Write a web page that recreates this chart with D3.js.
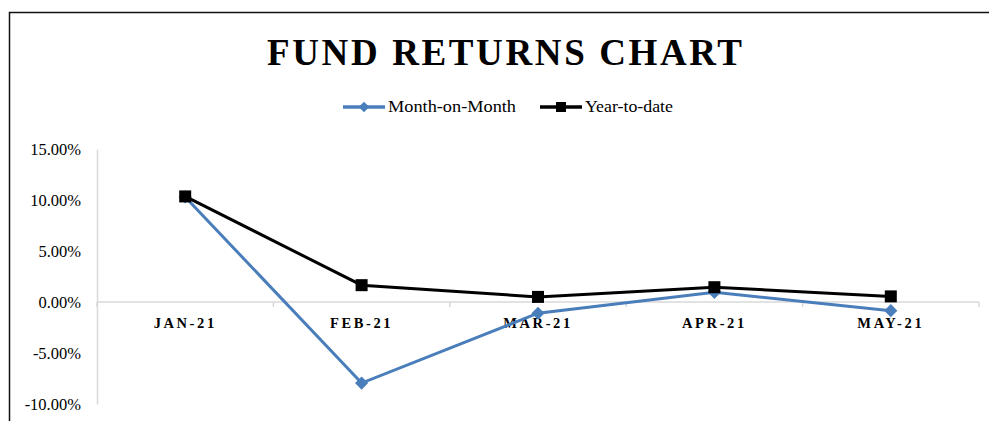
<!DOCTYPE html>
<head>
  <title>Fund returns chart</title>
  <script src="https://d3js.org/d3.v7.min.js"></script>
</head>
<style>
body {
    margin: 0;
    background: #fff;
}
svg text {
    fill: #000;
    font-family: "Liberation Serif", "Times New Roman", serif;
}
</style>
<body>
<svg></svg>
<script>
    // chart data
    var months = ["JAN-21", "FEB-21", "MAR-21", "APR-21", "MAY-21"];
    var monthOnMonth = [10.3, -7.95, -1.1, 0.95, -0.85];
    var yearToDate = [10.35, 1.65, 0.5, 1.45, 0.55];
    var yTicks = [-10, -5, 0, 5, 10, 15];
    var seriesNames = ["Month-on-Month", "Year-to-date"];

    var width = 989, height = 421;
    var blue = "#4a7ebb";

    var svg = d3.select("svg").attr("width", width).attr("height", height);

    // outer frame (runs off the right and bottom edge like the screenshot)
    svg.append("rect")
        .attr("x", 9.5).attr("y", 12.5)
        .attr("width", 990).attr("height", 420)
        .attr("fill", "none").attr("stroke", "#111").attr("stroke-width", 1.5);

    // title
    svg.append("text")
        .attr("x", 267).attr("y", 65)
        .attr("textLength", 475).attr("lengthAdjust", "spacing")
        .style("font-size", "37px").style("font-weight", "bold")
        .text("FUND RETURNS CHART");

    var x = d3.scaleBand().domain(months).range([97, 979]);
    var y = d3.scaleLinear().domain([-10, 15]).range([404, 149]);

    // y axis: grey line, labels only
    var yAxis = svg.append("g").attr("transform", "translate(97,0)")
        .call(d3.axisLeft(y).tickValues(yTicks).tickSize(0).tickPadding(16)
            .tickFormat(function (d) { return d.toFixed(2) + "%"; }));
    yAxis.attr("font-family", null);
    yAxis.select(".domain").attr("stroke", "#d9d9d9").attr("stroke-width", 1.5);
    yAxis.selectAll("text")
        .style("font-size", "16.5px").attr("fill", "#000");

    // x axis at zero, ticks on category boundaries
    var xg = svg.append("g").attr("transform", "translate(0," + y(0) + ")");
    xg.append("line")
        .attr("x1", 97).attr("x2", 979)
        .attr("stroke", "#d9d9d9").attr("stroke-width", 1.5);
    var bounds = months.map(function (m) { return x(m); }).concat([x.range()[1]]);
    xg.selectAll("line.tick").data(bounds).enter().append("line")
        .attr("class", "tick")
        .attr("x1", function (d) { return d; }).attr("x2", function (d) { return d; })
        .attr("y1", 0).attr("y2", 5)
        .attr("stroke", "#d9d9d9").attr("stroke-width", 1.5);
    xg.selectAll("text").data(months).enter().append("text")
        .attr("x", function (d) { return x(d) + x.bandwidth() / 2; })
        .attr("y", 26)
        .attr("text-anchor", "middle")
        .style("font-size", "14.5px").style("font-weight", "bold")
        .style("letter-spacing", "2.6px")
        .text(function (d) { return d; });

    var cx = function (d, i) { return x(months[i]) + x.bandwidth() / 2; };
    var line = d3.line().x(cx).y(function (d) { return y(d); });

    // Month-on-Month
    svg.append("path").datum(monthOnMonth)
        .attr("d", line).attr("fill", "none")
        .attr("stroke", blue).attr("stroke-width", 3);
    var diamond = d3.symbol().type(d3.symbolDiamond2).size(110);
    svg.selectAll("path.mom").data(monthOnMonth).enter().append("path")
        .attr("class", "mom")
        .attr("d", diamond)
        .attr("transform", function (d, i) { return "translate(" + cx(d, i) + "," + y(d) + ")"; })
        .attr("fill", blue);

    // Year-to-date
    svg.append("path").datum(yearToDate)
        .attr("d", line).attr("fill", "none")
        .attr("stroke", "#000").attr("stroke-width", 3);
    svg.selectAll("rect.ytd").data(yearToDate).enter().append("rect")
        .attr("class", "ytd")
        .attr("x", function (d, i) { return cx(d, i) - 6; })
        .attr("y", function (d) { return y(d) - 6; })
        .attr("width", 12).attr("height", 12)
        .attr("fill", "#000");

    // legend
    var legend = [
        { name: seriesNames[0], x: 343, tw: 128, color: blue, shape: "diamond" },
        { name: seriesNames[1], x: 540, tw: 88, color: "#000", shape: "square" }
    ];
    var lg = svg.selectAll("g.legend").data(legend).enter().append("g")
        .attr("class", "legend")
        .attr("transform", function (d) { return "translate(" + d.x + ",107)"; });
    lg.append("line").attr("x1", 0).attr("x2", 42)
        .attr("stroke", function (d) { return d.color; }).attr("stroke-width", 3.5);
    lg.each(function (d) {
        var g = d3.select(this);
        if (d.shape === "diamond") {
            g.append("path").attr("d", d3.symbol().type(d3.symbolDiamond2).size(70))
                .attr("transform", "translate(21,0)").attr("fill", d.color);
        } else {
            g.append("rect").attr("x", 16).attr("y", -5).attr("width", 10).attr("height", 10)
                .attr("fill", d.color);
        }
    });
    lg.append("text")
        .attr("x", 45).attr("y", 5)
        .attr("textLength", function (d) { return d.tw; })
        .attr("lengthAdjust", "spacingAndGlyphs")
        .style("font-size", "16px")
        .text(function (d) { return d.name; });
</script>
</body>
